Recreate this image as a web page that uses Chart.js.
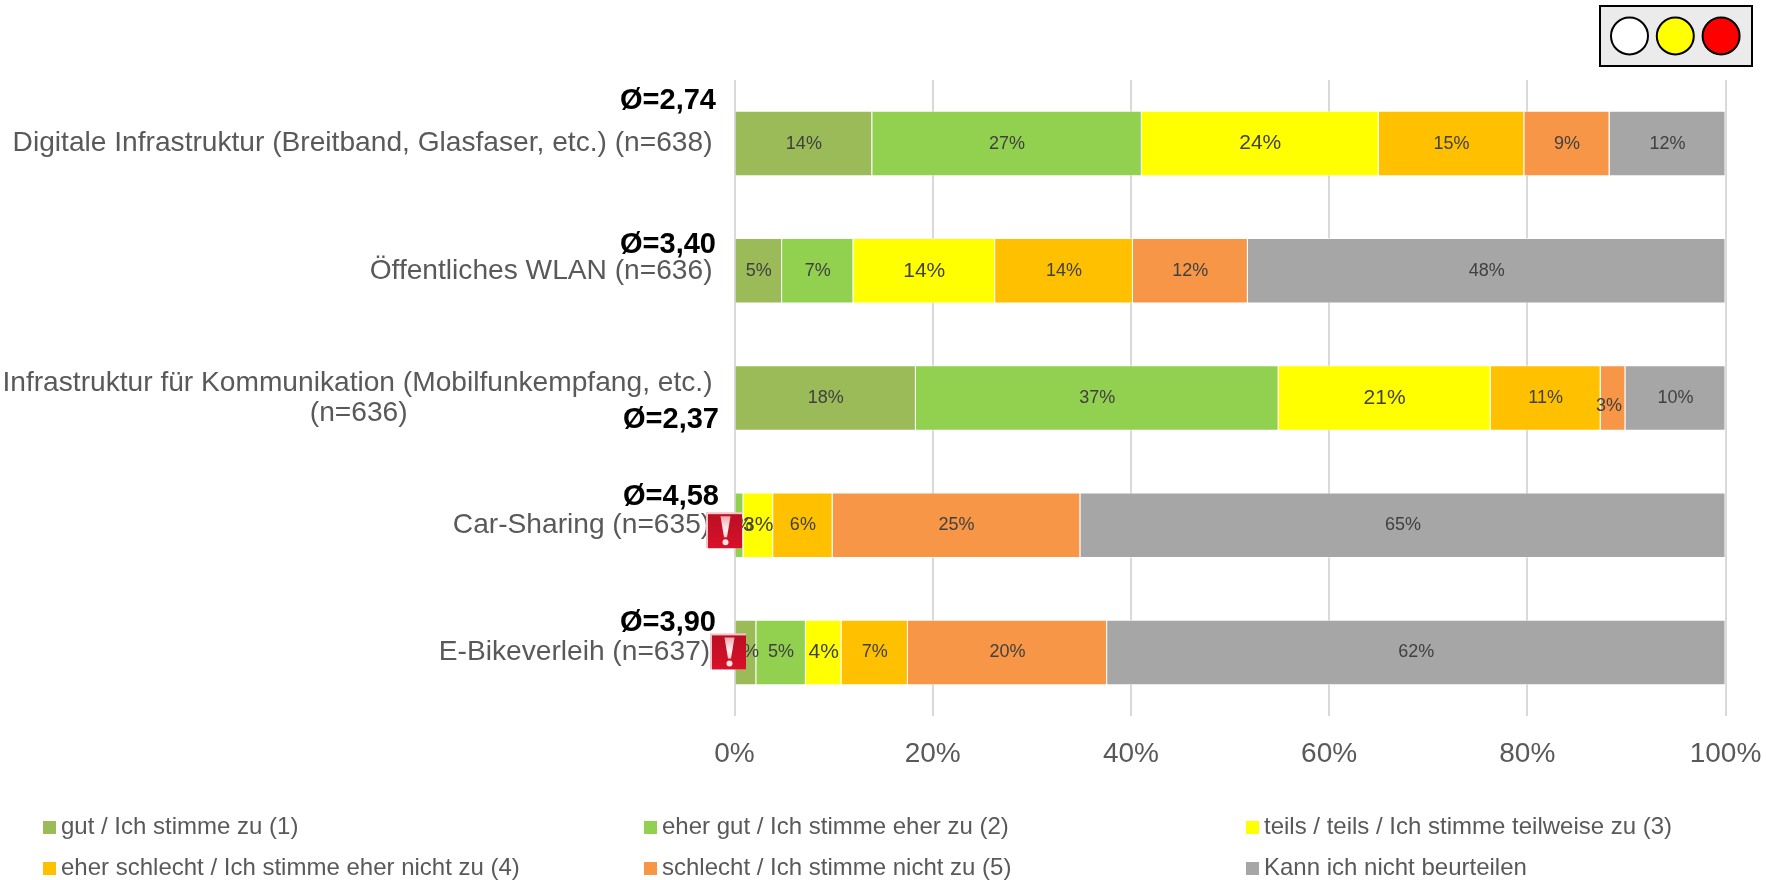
<!DOCTYPE html>
<html>
<head>
<meta charset="utf-8">
<title>Infrastruktur</title>
<script src="https://cdn.jsdelivr.net/npm/chart.js@4/dist/chart.umd.min.js"></script>
<style>
  html, body { margin: 0; padding: 0; background: #fff; }
  #wrap { width: 1766px; height: 880px; position: relative; }
</style>
</head>
<body>
<div id="wrap"><canvas id="chart" width="1766" height="880"></canvas></div>
<script>
const categories = [
  "Digitale Infrastruktur (Breitband, Glasfaser, etc.) (n=638)",
  "Öffentliches WLAN (n=636)",
  ["Infrastruktur für Kommunikation (Mobilfunkempfang, etc.)", "(n=636)"],
  "Car-Sharing (n=635)",
  "E-Bikeverleih (n=637)"
];
const gut = [13.9, 4.8, 18.3, 0, 2.2];
const eherGut = [27.2, 7.2, 36.6, 0.9, 5];
const teils = [23.9, 14.3, 21.4, 3, 3.6];
const eherSchlecht = [14.7, 13.9, 11.1, 6, 6.7];
const schlecht = [8.6, 11.6, 2.5, 25, 20.1];
const keineAngabe = [11.7, 48.2, 10.1, 65.1, 62.4];
const means = ["Ø=2,74", "Ø=3,40", "Ø=2,37", "Ø=4,58", "Ø=3,90"];
const warnings = [false, false, false, true, true];
const seriesNames = [
  "gut / Ich stimme zu (1)",
  "eher gut / Ich stimme eher zu (2)",
  "teils / teils / Ich stimme teilweise zu (3)",
  "eher schlecht / Ich stimme eher nicht zu (4)",
  "schlecht / Ich stimme nicht zu (5)",
  "Kann ich nicht beurteilen"
];
const seriesValues = [gut, eherGut, teils, eherSchlecht, schlecht, keineAngabe];
const seriesColors = ["#9BBB59", "#92D050", "#FFFF00", "#FFC000", "#F79646", "#A6A6A6"];
const trafficLight = ["#FFFFFF", "#FFFF00", "#FF0000"];

const FONT = '"Liberation Sans", Arial, sans-serif';

// second line of the long label sits centred under the first one,
// labels with a warning icon stop a little earlier
function padLabel(label, i) {
  if (Array.isArray(label)) return [label[0], label[1] + "\u00A0".repeat(39)];
  return warnings[i] ? label + "\u200A" : label;
}

// percent labels inside the bars
const barLabels = {
  id: "barLabels",
  afterDatasetsDraw(chart) {
    const ctx = chart.ctx;
    ctx.save();
    ctx.textAlign = "center";
    ctx.textBaseline = "middle";
    ctx.fillStyle = "#404040";
    chart.data.datasets.forEach((ds, i) => {
      chart.getDatasetMeta(i).data.forEach((bar, j) => {
        if (!ds.data[j]) return;
        const small = i === 4 && j === 2; // 3% slips down on the narrow segment
        ctx.font = (i === 2 ? "21px " : "18px ") + FONT;
        const cx = (bar.x + bar.base) / 2 - (small ? 4 : 0);
        ctx.fillText(Math.round(ds.data[j]) + "%", cx, bar.y + (small ? 8 : 0));
      });
    });
    ctx.restore();
  }
};

// mean values, warning icons, legend grid and the traffic light box
const extras = {
  id: "extras",
  afterDraw(chart) {
    const ctx = chart.ctx;
    const y = chart.scales.y;
    const meanRight = [716, 716, 719, 719, 716];
    const meanShift = [-43, -26, 22, -28, -29];

    ctx.save();
    ctx.font = "bold 29px " + FONT;
    ctx.fillStyle = "#000";
    ctx.textAlign = "right";
    ctx.textBaseline = "middle";
    means.forEach((m, i) => {
      ctx.fillText(m, meanRight[i], y.getPixelForValue(i) + meanShift[i]);
    });

    const iconLeft = [0, 0, 0, 706, 710];
    const iconShift = [0, 0, 0, 5, -1];
    warnings.forEach((w, i) => {
      if (w) drawWarning(ctx, iconLeft[i], y.getPixelForValue(i) + iconShift[i] - 18);
    });

    // legend, three columns on two rows
    const cols = [43, 644, 1246];
    const rows = [827, 868];
    ctx.font = "24px " + FONT;
    ctx.textAlign = "left";
    chart.data.datasets.forEach((ds, i) => {
      const lx = cols[i % 3];
      const ly = rows[Math.floor(i / 3)];
      ctx.fillStyle = ds.backgroundColor;
      ctx.fillRect(lx, ly - 6, 13, 13);
      ctx.fillStyle = "#595959";
      ctx.fillText(ds.label, lx + 18, ly);
    });

    // traffic light
    ctx.fillStyle = "#EBEBEB";
    ctx.strokeStyle = "#000";
    ctx.lineWidth = 2;
    ctx.fillRect(1600, 6, 152, 60);
    ctx.strokeRect(1600, 6, 152, 60);
    trafficLight.forEach((c, i) => {
      ctx.beginPath();
      ctx.arc(1629.5 + i * 45.8, 36, 18.5, 0, Math.PI * 2);
      ctx.fillStyle = c;
      ctx.fill();
      ctx.stroke();
    });
    ctx.restore();
  }
};

function drawWarning(ctx, x, y) {
  const g = ctx.createLinearGradient(x, y, x, y + 36);
  g.addColorStop(0, "#B90F22");
  g.addColorStop(1, "#D8112A");
  ctx.fillStyle = "#F4C6CC";
  ctx.fillRect(x, y, 36, 36);
  ctx.fillStyle = g;
  ctx.fillRect(x + 2, y + 2, 34, 34);
  const m = ctx.createLinearGradient(x, y + 4, x, y + 26);
  m.addColorStop(0, "#F0A8AE");
  m.addColorStop(0.6, "#FFF2F2");
  m.addColorStop(1, "#F7C8CC");
  ctx.fillStyle = m;
  ctx.beginPath();
  ctx.moveTo(x + 14.5, y + 4);
  ctx.lineTo(x + 24.5, y + 4);
  ctx.lineTo(x + 21, y + 25);
  ctx.lineTo(x + 18, y + 25);
  ctx.closePath();
  ctx.fill();
  ctx.fillStyle = "#FBE3E3";
  ctx.beginPath();
  ctx.arc(x + 19.5, y + 30, 3, 0, Math.PI * 2);
  ctx.fill();
}

new Chart(document.getElementById("chart").getContext("2d"), {
  type: "bar",
  data: {
    labels: categories.map(padLabel),
    datasets: seriesNames.map((name, i) => ({
      label: name,
      data: seriesValues[i],
      backgroundColor: seriesColors[i],
      borderColor: "rgba(255,255,255,0.55)",
      borderWidth: 1,
      barPercentage: 0.515,
      categoryPercentage: 1
    }))
  },
  options: {
    indexAxis: "y",
    responsive: false,
    animation: false,
    layout: { padding: { top: 80, right: 40.5, left: 0, bottom: 0 } },
    plugins: { legend: { display: false }, tooltip: { enabled: false } },
    scales: {
      x: {
        stacked: true,
        min: 0,
        max: 100,
        afterFit: s => { s.height = 164; s.paddingRight = 0; s.paddingLeft = 0; },
        border: { display: false },
        grid: { color: "#D9D9D9", lineWidth: 2, drawTicks: false },
        ticks: {
          stepSize: 20,
          padding: 21,
          maxRotation: 0,
          color: "#595959",
          font: { family: FONT, size: 28 },
          callback: v => v + "%"
        }
      },
      y: {
        stacked: true,
        afterFit: s => { s.width = 734.5; },
        border: { display: false },
        grid: { display: false },
        ticks: {
          padding: 14,
          autoSkip: false,
          color: "#595959",
          font: { family: FONT, size: 28.15, lineHeight: 1.08 }
        }
      }
    }
  },
  plugins: [barLabels, extras]
});
</script>
</body>
</html>
